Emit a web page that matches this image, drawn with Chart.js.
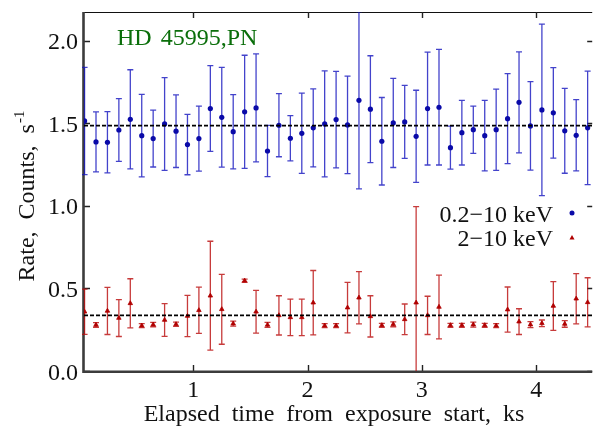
<!DOCTYPE html>
<html>
<head>
<meta charset="utf-8">
<script src="https://cdn.jsdelivr.net/npm/chart.js@4/dist/chart.umd.min.js"></script>
<style>
  html, body { margin: 0; padding: 0; background: #fff; overflow: hidden; }
  #wrap { width: 597px; height: 430px; }
</style>
</head>
<body>
<div id="wrap"><canvas id="lc" width="597" height="430"></canvas></div>
<script>
// Bin centres, ks from exposure start
const timeKs = [0.05, 0.15, 0.25, 0.35, 0.45, 0.55, 0.65, 0.75, 0.85, 0.95,
                1.05, 1.15, 1.25, 1.35, 1.45, 1.55, 1.65, 1.75, 1.85, 1.95,
                2.05, 2.15, 2.25, 2.35, 2.45, 2.55, 2.65, 2.75, 2.85, 2.95,
                3.05, 3.15, 3.25, 3.35, 3.45, 3.55, 3.65, 3.75, 3.85, 3.95,
                4.05, 4.15, 4.25, 4.35, 4.45];

// 0.2-10 keV count rate and 1-sigma errors
const softRate = [1.515, 1.388, 1.386, 1.460, 1.525, 1.426, 1.408, 1.497, 1.453, 1.372,
                  1.408, 1.590, 1.537, 1.450, 1.570, 1.594, 1.333, 1.489, 1.410, 1.440,
                  1.473, 1.497, 1.523, 1.491, 1.640, 1.586, 1.392, 1.503, 1.509, 1.422,
                  1.590, 1.598, 1.353, 1.444, 1.462, 1.426, 1.462, 1.529, 1.628, 1.485,
                  1.582, 1.564, 1.455, 1.428, 1.473];
const softErr  = [0.325, 0.182, 0.186, 0.190, 0.300, 0.250, 0.172, 0.281, 0.220, 0.183,
                  0.197, 0.260, 0.302, 0.225, 0.343, 0.327, 0.155, 0.191, 0.137, 0.243,
                  0.236, 0.321, 0.292, 0.295, 0.537, 0.324, 0.265, 0.270, 0.221, 0.279,
                  0.342, 0.350, 0.130, 0.196, 0.143, 0.214, 0.246, 0.273, 0.306, 0.268,
                  0.520, 0.274, 0.257, 0.216, 0.344];

// 2-10 keV count rate and 1-sigma errors
const hardRate = [0.359, 0.279, 0.364, 0.321, 0.410, 0.275, 0.281, 0.309, 0.283, 0.333,
                  0.368, 0.456, 0.374, 0.287, 0.547, 0.359, 0.279, 0.337, 0.325, 0.325,
                  0.414, 0.275, 0.275, 0.384, 0.444, 0.331, 0.277, 0.283, 0.313, 0.414,
                  0.337, 0.388, 0.277, 0.277, 0.281, 0.277, 0.275, 0.372, 0.299, 0.281,
                  0.289, 0.394, 0.285, 0.438, 0.416];
const hardErr  = [0.137, 0.014, 0.143, 0.112, 0.149, 0.012, 0.013, 0.099, 0.013, 0.125,
                  0.140, 0.330, 0.212, 0.015, 0.010, 0.129, 0.015, 0.119, 0.111, 0.111,
                  0.195, 0.012, 0.012, 0.153, 0.158, 0.125, 0.012, 0.015, 0.093, 0.582,
                  0.116, 0.193, 0.012, 0.012, 0.015, 0.012, 0.012, 0.137, 0.078, 0.018,
                  0.020, 0.148, 0.020, 0.152, 0.149];

// Mean rates over the whole exposure
const softMean = 1.487;
const hardMean = 0.337;

const xTickValues = [1, 2, 3, 4];
const yTickValues = [0.0, 0.5, 1.0, 1.5, 2.0];
const xRange = [0.045, 4.49];
const yRange = [0, 2.175];

const SERIF = "'Liberation Serif', serif";
const SOFT_COLOR = '#0a0aa8';
const SOFT_BAR = 'rgba(20, 20, 190, 0.8)';
const HARD_COLOR = '#b00000';
const HARD_BAR = 'rgba(185, 10, 10, 0.8)';

function toPoints(xs, ys) {
  return xs.map((x, i) => ({ x: x, y: ys[i] }));
}

// Vertical error bars with short caps, drawn under the markers
const errorBars = {
  id: 'errorBars',
  beforeDatasetsDraw(chart) {
    const ctx = chart.ctx;
    const area = chart.chartArea;
    const ys = chart.scales.y;
    ctx.save();
    ctx.beginPath();
    ctx.rect(area.left - 2, area.top, area.right - area.left + 2, area.bottom - area.top);
    ctx.clip();
    chart.data.datasets.forEach((ds, di) => {
      if (!ds.errors) return;
      const meta = chart.getDatasetMeta(di);
      ctx.strokeStyle = ds.barColor;
      ctx.lineWidth = 1.3;
      meta.data.forEach((pt, i) => {
        const v = ds.data[i].y;
        const e = ds.errors[i];
        const x = pt.x;
        const yTop = ys.getPixelForValue(v + e);
        const yBot = ys.getPixelForValue(v - e);
        ctx.beginPath();
        ctx.moveTo(x, yTop);
        ctx.lineTo(x, yBot);
        ctx.moveTo(x - 3, yTop);
        ctx.lineTo(x + 3, yTop);
        ctx.moveTo(x - 3, yBot);
        ctx.lineTo(x + 3, yBot);
        ctx.stroke();
      });
    });
    ctx.restore();
  }
};

// Boxed frame with inward ticks on all four sides, plus tick labels
const frame = {
  id: 'frame',
  beforeDatasetsDraw(chart) {
    const ctx = chart.ctx;
    const a = chart.chartArea;
    const xs = chart.scales.x;
    const ys = chart.scales.y;
    ctx.save();
    // thin top border
    ctx.strokeStyle = '#111';
    ctx.lineWidth = 1.2;
    ctx.beginPath();
    ctx.moveTo(a.left, a.top + 0.5);
    ctx.lineTo(a.right, a.top + 0.5);
    ctx.stroke();
    // ticks
    ctx.lineWidth = 1.4;
    ctx.strokeStyle = '#222';
    xs.ticks.forEach(t => {
      const px = Math.round(xs.getPixelForValue(t.value)) + 0.5;
      ctx.beginPath();
      ctx.moveTo(px, a.bottom);
      ctx.lineTo(px, a.bottom - 6);
      ctx.moveTo(px, a.top);
      ctx.lineTo(px, a.top + 6);
      ctx.stroke();
    });
    ys.ticks.forEach(t => {
      const py = Math.round(ys.getPixelForValue(t.value)) + 0.5;
      ctx.beginPath();
      ctx.moveTo(a.left, py);
      ctx.lineTo(a.left + 6, py);
      ctx.moveTo(a.right, py);
      ctx.lineTo(a.right - 5, py);
      ctx.stroke();
    });
    // heavy left and bottom axes
    ctx.strokeStyle = '#3c3c3c';
    ctx.lineWidth = 2.6;
    ctx.beginPath();
    ctx.moveTo(a.left - 0.5, a.top);
    ctx.lineTo(a.left - 0.5, a.bottom + 0.8);
    ctx.lineTo(a.right, a.bottom + 0.8);
    ctx.stroke();

    // tick labels
    ctx.fillStyle = '#111';
    ctx.font = '24px ' + SERIF;
    ctx.textBaseline = 'alphabetic';
    ctx.textAlign = 'center';
    xs.ticks.forEach(t => {
      ctx.fillText(t.label, xs.getPixelForValue(t.value), 397);
    });
    ctx.textAlign = 'right';
    ys.ticks.forEach(t => {
      ctx.fillText(t.label, 78, ys.getPixelForValue(t.value) + 8.5);
    });
    ctx.restore();
  }
};

// Axis titles, source name and the series key
const annotations = {
  id: 'annotations',
  afterDraw(chart) {
    const ctx = chart.ctx;
    ctx.save();
    ctx.fillStyle = '#111';
    ctx.font = '24px ' + SERIF;

    // x title
    ctx.textAlign = 'center';
    ctx.textBaseline = 'alphabetic';
    ctx.wordSpacing = '6px';
    ctx.fillText('Elapsed time from exposure start, ks', 334, 421);
    ctx.wordSpacing = '0px';

    // y title with superscript
    const main = 'Rate,  Counts,  s';
    const sup = '-1';
    const wMain = ctx.measureText(main).width;
    ctx.font = '15px ' + SERIF;
    const wSup = ctx.measureText(sup).width;
    const total = wMain + wSup + 1;
    ctx.translate(34, 196);
    ctx.rotate(-Math.PI / 2);
    ctx.textAlign = 'left';
    ctx.font = '24px ' + SERIF;
    ctx.fillText(main, -total / 2, 0);
    ctx.font = '15px ' + SERIF;
    ctx.fillText(sup, -total / 2 + wMain + 1, -10);
    ctx.setTransform(1, 0, 0, 1, 0, 0);

    // source name
    ctx.font = '24px ' + SERIF;
    ctx.fillStyle = '#0a6e0a';
    ctx.textAlign = 'left';
    ctx.wordSpacing = '3px';
    ctx.fillText('HD 45995,PN', 117, 45);
    ctx.wordSpacing = '0px';

    // key
    ctx.fillStyle = '#111';
    ctx.textAlign = 'right';
    ctx.fillText('0.2\u221210 keV', 553, 222);
    ctx.fillText('2\u221210 keV', 553, 246);
    ctx.fillStyle = SOFT_COLOR;
    ctx.beginPath();
    ctx.arc(572, 213, 2.5, 0, Math.PI * 2);
    ctx.fill();
    ctx.fillStyle = HARD_COLOR;
    ctx.beginPath();
    ctx.moveTo(572, 235);
    ctx.lineTo(574.5, 239.5);
    ctx.lineTo(569.5, 239.5);
    ctx.closePath();
    ctx.fill();
    ctx.restore();
  }
};

new Chart(document.getElementById('lc'), {
  type: 'scatter',
  data: {
    datasets: [
      {
        label: '0.2-10 keV mean',
        data: [{ x: xRange[0], y: softMean }, { x: xRange[1], y: softMean }],
        showLine: true,
        borderColor: '#000',
        borderWidth: 1.8,
        borderDash: [4, 2],
        pointRadius: 0,
        order: 0
      },
      {
        label: '2-10 keV mean',
        data: [{ x: xRange[0], y: hardMean }, { x: xRange[1], y: hardMean }],
        showLine: true,
        borderColor: '#000',
        borderWidth: 1.8,
        borderDash: [4, 2],
        pointRadius: 0,
        order: 0
      },
      {
        label: '0.2-10 keV',
        data: toPoints(timeKs, softRate),
        errors: softErr,
        barColor: SOFT_BAR,
        pointStyle: 'circle',
        pointRadius: 2.6,
        backgroundColor: SOFT_COLOR,
        borderWidth: 0,
        order: 1
      },
      {
        label: '2-10 keV',
        data: toPoints(timeKs, hardRate),
        errors: hardErr,
        barColor: HARD_BAR,
        pointStyle: 'triangle',
        pointRadius: 2.6,
        backgroundColor: HARD_COLOR,
        borderColor: HARD_COLOR,
        borderWidth: 0.8,
        order: 1
      }
    ]
  },
  options: {
    responsive: false,
    maintainAspectRatio: false,
    devicePixelRatio: 1,
    animation: false,
    events: [],
    layout: { padding: { top: 12, right: 0, left: 0, bottom: 0 } },
    plugins: {
      legend: { display: false },
      tooltip: { enabled: false },
      title: { display: false }
    },
    scales: {
      x: {
        type: 'linear',
        min: xRange[0],
        max: xRange[1],
        afterBuildTicks: s => { s.ticks = xTickValues.map(v => ({ value: v })); },
        afterFit: s => { s.height = 59; },
        grid: { display: false, drawTicks: false },
        border: { display: false },
        ticks: {
          display: false,
          autoSkip: false,
          callback: v => String(v)
        }
      },
      y: {
        type: 'linear',
        min: yRange[0],
        max: yRange[1],
        afterBuildTicks: s => { s.ticks = yTickValues.map(v => ({ value: v })); },
        afterFit: s => { s.width = 84; },
        grid: { display: false, drawTicks: false },
        border: { display: false },
        ticks: {
          display: false,
          autoSkip: false,
          callback: v => Number(v).toFixed(1)
        }
      }
    }
  },
  plugins: [frame, errorBars, annotations]
});
</script>
</body>
</html>
